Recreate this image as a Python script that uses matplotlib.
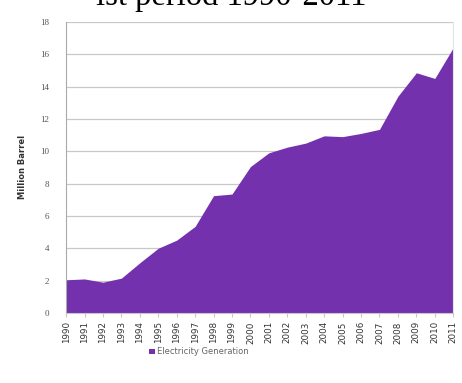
import matplotlib
matplotlib.use("Agg")
import matplotlib.pyplot as plt
from matplotlib.patches import Patch

years = [str(y) for y in range(1990, 2012)]
electricity = [2.05, 2.1, 1.9, 2.15, 3.1, 4.0, 4.5, 5.35, 7.25, 7.35, 9.05,
               9.9, 10.25, 10.5, 10.95, 10.9, 11.1, 11.35, 13.4, 14.85, 14.5, 16.4]
yticks = list(range(0, 20, 2))

purple = "#7331AE"
grid_c = "#c8c8c8"
text_c = "#555555"

fig = plt.figure(figsize=(4.62, 3.83), dpi=100)
ax = fig.add_axes([0.143, 0.183, 0.838, 0.760])

x = list(range(len(years)))
ax.fill_between(x, electricity, 0, color=purple, linewidth=0, zorder=2)

ax.set_xlim(0, len(years) - 1)
ax.set_ylim(0, 18)
ax.set_yticks(yticks)
ax.set_yticklabels([str(v) for v in yticks], fontsize=6.5, color=text_c,
                   family="Liberation Serif")
ax.yaxis.grid(True, color=grid_c, linewidth=0.9, zorder=0)
ax.set_xticks(x)
ax.set_xticklabels(years, rotation=90, fontsize=6.3, color="#333333")
ax.tick_params(axis="y", length=0, pad=12)
ax.tick_params(axis="x", length=3, color=grid_c, pad=3)

ax.spines["top"].set_visible(False)
ax.spines["right"].set_color("#e4e4e4")
ax.spines["left"].set_color("#aaaaaa")
ax.spines["bottom"].set_color(grid_c)

ax.set_ylabel("Million Barrel", fontsize=6, fontweight="bold", color="#333333",
              labelpad=10)

handle = Patch(facecolor=purple, edgecolor="none")
fig.legend([handle], ["Electricity Generation"], loc="center",
           bbox_to_anchor=(0.43, 0.081), frameon=False, fontsize=6,
           labelcolor="#666666", handlelength=0.7, handleheight=0.7,
           handletextpad=0.3)

fig.text(0.500, 0.987, "ist period 1990-2011", ha="center", va="baseline",
         fontsize=23.5, family="Liberation Serif", color="black")

fig.savefig("out.png", dpi=100)
